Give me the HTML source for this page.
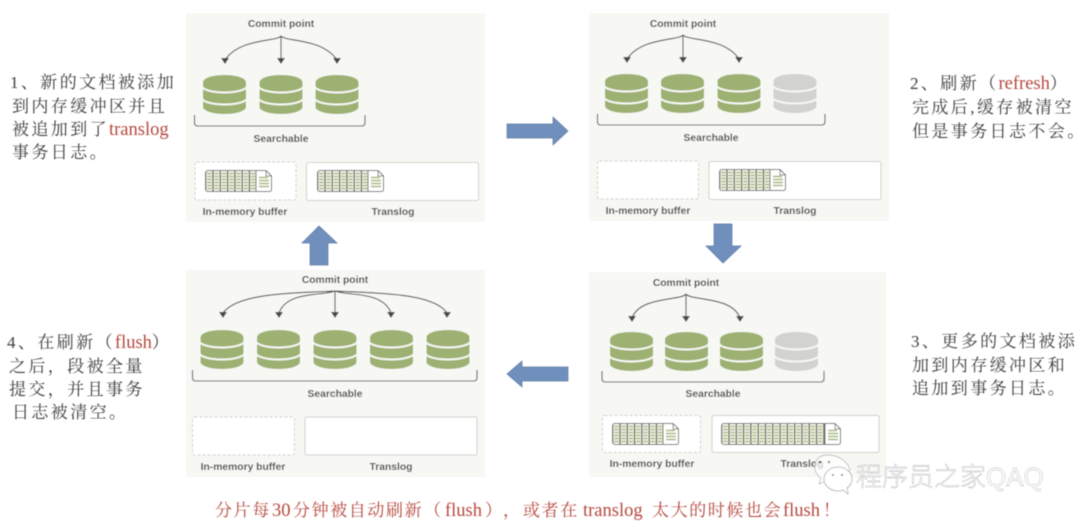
<!DOCTYPE html>
<html lang="zh">
<head>
<meta charset="utf-8">
<style>
html,body{margin:0;padding:0;width:1080px;height:525px;background:#fff;overflow:hidden}
svg{display:block}
.lb{font-family:"Liberation Sans",sans-serif;font-weight:700;font-size:10.3px;fill:#474747;text-anchor:middle}
.cn{font-family:"Liberation Serif","Noto Serif CJK SC",serif;font-size:17px;fill:#3c3c3c;letter-spacing:2.4px}
.red{fill:#b5473c;font-size:18.5px;letter-spacing:0}
.bot{font-family:"Liberation Serif","Noto Serif CJK SC",serif;font-size:17px;fill:#b5473c;letter-spacing:1.6px}
.bl{font-size:18.5px;letter-spacing:0}
.wm{font-family:"Liberation Sans","Noto Sans CJK SC",sans-serif;font-size:26px;font-weight:300;fill:#fff;stroke:#b4b4b4;stroke-width:.45}
.buf{fill:#fff;stroke:#cfcfcb;stroke-width:1;stroke-dasharray:3 2}
.tl{fill:#fff;stroke:#cfcfcb;stroke-width:1}
.br{fill:none;stroke:#555;stroke-width:1.1}
.ar{fill:none;stroke:#4a4a4a;stroke-width:1.1}
.hd{fill:#4a4a4a}
.blk{fill:#6f8fbd;stroke:#5f7ca6;stroke-width:.7}
</style>
</head>
<body>
<svg width="1080" height="525" viewBox="0 0 1080 525" xmlns="http://www.w3.org/2000/svg">
<defs>
<filter id="b" x="-5%" y="-5%" width="110%" height="110%"><feGaussianBlur stdDeviation="0.4"/></filter>
<symbol id="cg" width="43" height="39" viewBox="0 0 43 39" overflow="visible">
<path d="M0 7A21.5 7 0 0 1 43 7V32A21.5 7 0 0 1 0 32Z" fill="#9db172"/>
<path d="M-1 11A22.500 6.500 0 0 0 44 11M-1 23A22.500 6.500 0 0 0 44 23" fill="none" stroke="#f7f8f4" stroke-width="2"/>
</symbol>
<symbol id="cs" width="43" height="39" viewBox="0 0 43 39" overflow="visible">
<path d="M0 7A21.5 7 0 0 1 43 7V32A21.5 7 0 0 1 0 32Z" fill="#d2d2d0"/>
<path d="M-1 11A22.500 6.500 0 0 0 44 11M-1 23A22.500 6.500 0 0 0 44 23" fill="none" stroke="#f7f8f4" stroke-width="2"/>
</symbol>
<pattern id="pg" width="7.3" height="22" patternUnits="userSpaceOnUse">
<rect width="7.3" height="22" fill="#f6f7ee"/>
<rect x="0" width="1.3" height="22" fill="#5e5e5e"/>
<path d="M2.200 3.500h4.300M2.200 6.500h4.300M2.200 9.500h4.300M2.200 12.500h4.300M2.200 15.500h4.300M2.200 18.500h4.300" stroke="#a5b87a" stroke-width="1.5"/>
</pattern>
<symbol id="d" width="67" height="22" viewBox="0 0 67 22" overflow="visible">
<rect x=".5" y=".5" width="58" height="21" rx="2.5" fill="url(#pg)" stroke="#666"/>
<path d="M51 .5H61L66.5 6V19.5a2 2 0 0 1-2 2H51Z" fill="#fff" stroke="#666"/>
<path d="M61 .5V6H66.5" fill="none" stroke="#666" stroke-width=".8"/>
<path d="M54 7.500h9M54 10.500h10M54 13.500h10M54 16.500h10" stroke="#a5b87a" stroke-width="1.4"/>
</symbol>
<symbol id="dl" width="120" height="22" viewBox="0 0 120 22" overflow="visible">
<rect x=".5" y=".5" width="111" height="21" rx="2.5" fill="url(#pg)" stroke="#666"/>
<path d="M104 .5H114L119.5 6V19.5a2 2 0 0 1-2 2H104Z" fill="#fff" stroke="#666"/>
<path d="M114 .5V6H119.5" fill="none" stroke="#666" stroke-width=".8"/>
<path d="M107 7.500h9M107 10.500h10M107 13.500h10M107 16.500h10" stroke="#a5b87a" stroke-width="1.4"/>
</symbol>
</defs>

<g filter="url(#b)">
<!-- panel 1 -->
<rect x="186" y="13" width="299" height="209" fill="#f7f8f4"/>
<text class="lb" x="281" y="27">Commit point</text>
<path class="ar" d="M281 36C276 42 240 38 225 60M281 36V60M281 36C286 42 322 38 337 60"/>
<path class="hd" d="M221 58h8l-4 6zM277 58h8l-4 6zM333 58h8l-4 6z"/>
<use href="#cg" x="203" y="75"/><use href="#cg" x="259.500" y="75"/><use href="#cg" x="315.500" y="75"/>
<path class="br" d="M194.500 115V123a3 3 0 0 0 3 3H362a3 3 0 0 0 3-3V115"/>
<text class="lb" x="281" y="142">Searchable</text>
<rect class="buf" x="195" y="162" width="101" height="38" rx="2"/>
<rect class="tl" x="306.500" y="162.500" width="172" height="38" rx="2"/>
<use href="#d" x="205" y="170"/><use href="#d" x="317" y="170"/>
<text class="lb" x="245" y="215">In-memory buffer</text>
<text class="lb" x="393" y="215">Translog</text>

<!-- panel 2 -->
<rect x="589" y="13" width="300" height="208" fill="#f7f8f4"/>
<text class="lb" x="683" y="27">Commit point</text>
<path class="ar" d="M683 35C678 41 642 37 627 59M683 35V59M683 35C688 41 724 37 739 59"/>
<path class="hd" d="M623 57h8l-4 6zM679 57h8l-4 6zM735 57h8l-4 6z"/>
<use href="#cg" x="605" y="74"/><use href="#cg" x="661" y="74"/><use href="#cg" x="717.500" y="74"/><use href="#cs" x="773.500" y="74"/>
<path class="br" d="M597.500 114V122a3 3 0 0 0 3 3H822a3 3 0 0 0 3-3V114"/>
<text class="lb" x="711" y="141">Searchable</text>
<rect class="buf" x="597.500" y="161" width="101" height="38" rx="2"/>
<rect class="tl" x="709" y="161.500" width="172" height="38" rx="2"/>
<use href="#d" x="719" y="169"/>
<text class="lb" x="648" y="214">In-memory buffer</text>
<text class="lb" x="795" y="214">Translog</text>

<!-- panel 3 -->
<rect x="589" y="272" width="297" height="205" fill="#f7f8f4"/>
<text class="lb" x="686" y="286">Commit point</text>
<path class="ar" d="M686 294C681 301 640 296 632 318M686 294V318M686 294C691 301 732 296 740 318"/>
<path class="hd" d="M628 316h8l-4 6zM682 316h8l-4 6zM736 316h8l-4 6z"/>
<use href="#cg" x="610" y="332"/><use href="#cg" x="665" y="332"/><use href="#cg" x="720" y="332"/><use href="#cs" x="775" y="332"/>
<path class="br" d="M602 371V379a3 3 0 0 0 3 3H821a3 3 0 0 0 3-3V371"/>
<text class="lb" x="713" y="397">Searchable</text>
<rect class="buf" x="602.500" y="415.500" width="98" height="37" rx="2"/>
<rect class="tl" x="712" y="415.500" width="167" height="37" rx="2"/>
<use href="#d" x="612" y="423"/><use href="#dl" x="721" y="423"/>
<text class="lb" x="652" y="467">In-memory buffer</text>
<text class="lb" x="802" y="467">Translog</text>

<!-- panel 4 -->
<rect x="186" y="270" width="299" height="207" fill="#f7f8f4"/>
<text class="lb" x="335" y="283">Commit point</text>
<path class="ar" d="M335 291C300 293 238 292 223 313M335 291C322 296 287 291 279 313M335 291V313M335 291C348 296 383 291 391 313M335 291C370 293 433 292 447 313"/>
<path class="hd" d="M219 312h8l-4 6zM275 312h8l-4 6zM331 312h8l-4 6zM387 312h8l-4 6zM443 312h8l-4 6z"/>
<use href="#cg" x="200.500" y="330"/><use href="#cg" x="257" y="330"/><use href="#cg" x="313.500" y="330"/><use href="#cg" x="370" y="330"/><use href="#cg" x="426.500" y="330"/>
<path class="br" d="M192.500 370V378a3 3 0 0 0 3 3H474a3 3 0 0 0 3-3V370"/>
<text class="lb" x="335" y="397">Searchable</text>
<rect class="buf" x="192.500" y="417" width="102" height="38" rx="2"/>
<rect class="tl" x="305" y="417" width="172" height="38" rx="2"/>
<text class="lb" x="243" y="470">In-memory buffer</text>
<text class="lb" x="391" y="470">Translog</text>

<!-- block arrows -->
<path class="blk" d="M507 124H553V117L568 131L553 145V138H507Z"/>
<path class="blk" d="M714 224H732V246H741L723 263L706 246H714Z"/>
<path class="blk" d="M568 367H522V361L507 374L522 387V381H568Z"/>
<path class="blk" d="M310 265V243H302L319 226L337 243H328V265Z"/>
</g>

<!-- text -->
<g filter="url(#b)">
<text class="cn" x="10" y="88">1、新的文档被添加</text>
<text class="cn" x="12" y="112">到内存缓冲区并且</text>
<text class="cn" x="12" y="135">被追加到了<tspan class="red">translog</tspan></text>
<text class="cn" x="12" y="158">事务日志。</text>

<text class="cn" x="910" y="89">2、刷新（<tspan class="red">refresh</tspan>）</text>
<text class="cn" x="912" y="113">完成后,缓存被清空</text>
<text class="cn" x="912" y="137">但是事务日志不会。</text>

<text class="cn" x="911" y="347">3、更多的文档被添</text>
<text class="cn" x="912" y="371">加到内存缓冲区和</text>
<text class="cn" x="912" y="394">追加到事务日志。</text>

<text class="cn" x="7" y="348">4、在刷新（<tspan class="red">flush</tspan>）</text>
<text class="cn" x="9" y="372">之后，段被全量</text>
<text class="cn" x="9" y="395">提交，并且事务</text>
<text class="cn" x="12" y="418">日志被清空。</text>

<text class="bot" y="516"><tspan x="215">分片每</tspan><tspan class="bl" x="272">30</tspan><tspan x="293">分钟被自动刷新</tspan><tspan x="424">（</tspan><tspan class="bl" x="445">flush</tspan><tspan x="485">）</tspan><tspan x="503">，</tspan><tspan x="523">或者在</tspan><tspan class="bl" x="583">translog</tspan><tspan x="652">太大的时候也会</tspan><tspan class="bl" x="783">flush</tspan><tspan x="823">！</tspan></text>
</g>

<!-- watermark -->
<g filter="url(#b)">
<path d="M827 455C819 455 814 461 815 468C815 473 818 476 821 478L819 484L826 481C830 482 833 481 835 480L850 470C848 461 838 455 827 455Z" fill="#fff" fill-opacity=".7" stroke="#b0b0b0" stroke-width=".7"/>
<ellipse cx="838" cy="479" rx="14" ry="12" fill="#fff" stroke="#a8a8a8" stroke-width=".8"/>
<path d="M843 490L848 494L847 487" fill="#fff" stroke="#a8a8a8" stroke-width=".7"/>
<circle cx="820" cy="462" r="1.300" fill="#555"/><circle cx="829" cy="462" r="1.300" fill="#999"/>
<circle cx="833" cy="475" r="1" fill="#777"/><circle cx="842" cy="475" r="1" fill="#777"/>
<text class="wm" x="856" y="486">程序员之家QAQ</text>
</g>
</svg>
</body>
</html>
